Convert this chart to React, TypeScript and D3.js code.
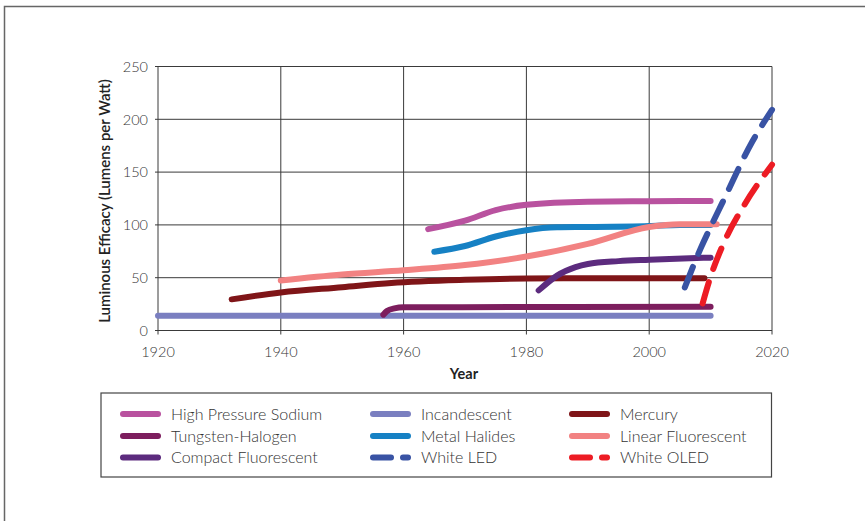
import React from "react";
import * as d3 from "d3";

type Pt = [number, number];

const xTicks = [1920, 1940, 1960, 1980, 2000, 2020];
const yTicks = [0, 50, 100, 150, 200, 250];

const incandescent: Pt[] = [[1920, 14], [2010, 14]];
const tungstenHalogen: Pt[] = [[1956.7, 15], [1957.3, 18.5], [1958.5, 21], [1960, 22], [1980, 22.2], [2010, 22.4]];
const mercury: Pt[] = [[1932, 29.5], [1940, 36], [1950, 41], [1958, 45], [1970, 48], [1980, 49.3], [1990, 49.5], [2009, 49.5]];
const compactFluorescent: Pt[] = [[1982, 38], [1985, 52], [1988, 60], [1990, 63], [1995, 65.7], [2000, 67], [2010, 69]];
const metalHalides: Pt[] = [[1965, 74.6], [1970, 80], [1975, 89], [1980, 95], [1985, 97.7], [1990, 98], [2000, 99], [2005, 100], [2010, 100]];
const linearFluorescent: Pt[] = [[1940, 47.4], [1950, 53], [1960, 57], [1970, 62], [1980, 70], [1990, 82], [2000, 98], [2005, 100.5], [2011, 100.5]];
const highPressureSodium: Pt[] = [[1964, 96], [1970, 104], [1975, 114], [1980, 119], [1990, 122], [2000, 122.5], [2010, 122.6]];
const whiteLED: Pt[] = [[2005.8, 40.8], [2008.4, 78], [2010, 98], [2012, 122], [2016.8, 179], [2020, 209]];
const whiteOLED: Pt[] = [[2008.7, 25.6], [2010, 51], [2012, 81], [2015.5, 119], [2020, 157]];

const seriesNames = [
  "Incandescent", "Tungsten-Halogen", "Mercury", "Compact Fluorescent", "Metal Halides",
  "Linear Fluorescent", "High Pressure Sodium", "White LED", "White OLED",
];
const seriesData = [incandescent, tungstenHalogen, mercury, compactFluorescent, metalHalides, linearFluorescent, highPressureSodium, whiteLED, whiteOLED];
const seriesColors = ["#7a7fc0", "#7d1e5e", "#7f1518", "#5c2b7e", "#1681c4", "#f28282", "#b9529f", "#3953a4", "#ed1c24"];
const seriesDashed = [false, false, false, false, false, false, false, true, true];

const legendOrder = [
  ["High Pressure Sodium", "Incandescent", "Mercury"],
  ["Tungsten-Halogen", "Metal Halides", "Linear Fluorescent"],
  ["Compact Fluorescent", "White LED", "White OLED"],
];

export default function App() {
  const W = 865, H = 521;
  const x = d3.scaleLinear().domain([1920, 2020]).range([158, 772]);
  const y = d3.scaleLinear().domain([0, 250]).range([330.5, 66.5]);
  const line = d3.line<Pt>().x(d => x(d[0])).y(d => y(d[1])).curve(d3.curveMonotoneX);
  const font = "Lato, 'Open Sans', sans-serif";
  const grid = "#3a3a3a";
  const colX = [120, 370, 569];
  const rowY = [414, 436, 457.5];

  return (
    <svg width={W} height={H} style={{ position: "absolute", left: 0, top: 0 }} fontFamily={font}>
      <rect x={0} y={0} width={W} height={H} fill="#fff" />
      <rect x={4.5} y={6.5} width={W + 20} height={H + 20} fill="none" stroke="#666" strokeWidth={1.5} />
      {xTicks.map(t => (
        <line key={"gx" + t} x1={x(t)} x2={x(t)} y1={y(250)} y2={y(0) + 4} stroke={grid} strokeWidth={1} />
      ))}
      {yTicks.map(t => (
        <line key={"gy" + t} x1={x(1920) - 3} x2={x(2020)} y1={y(t)} y2={y(t)} stroke={grid} strokeWidth={1} />
      ))}
      {yTicks.map(t => (
        <text key={"ty" + t} x={148} y={y(t)} dy="0.36em" textAnchor="end" fontSize={14.5} fontWeight={300} fill="#333">{t}</text>
      ))}
      {xTicks.map(t => (
        <text key={"tx" + t} x={x(t)} y={357} textAnchor="middle" fontSize={14.5} fontWeight={300} fill="#333">{t}</text>
      ))}
      <text x={464} y={378.5} textAnchor="middle" fontSize={14.5} fontWeight={700} fill="#222">Year</text>
      <text transform={`translate(110,201) rotate(-90)`} textAnchor="middle" fontSize={15} fontWeight={600} fill="#222">
        Luminous Efficacy (Lumens per Watt)
      </text>
      {seriesData.map((d, i) => (
        <path key={seriesNames[i]} d={line(d) || ""} fill="none" stroke={seriesColors[i]} strokeWidth={6}
          strokeLinecap="round" strokeLinejoin="round" strokeDasharray={seriesDashed[i] ? "22 14" : undefined} />
      ))}
      <rect x={101} y={393} width={670.5} height={84} fill="none" stroke="#444" strokeWidth={1.2} />
      {legendOrder.map((row, r) => row.map((name, c) => {
        const i = seriesNames.indexOf(name);
        const x0 = colX[c];
        const yy = rowY[r];
        return (
          <g key={name}>
            {seriesDashed[i] ? (
              <>
                <line x1={x0 + 3} x2={x0 + 21} y1={yy} y2={yy} stroke={seriesColors[i]} strokeWidth={6} strokeLinecap="round" />
                <line x1={x0 + 33} x2={x0 + 38} y1={yy} y2={yy} stroke={seriesColors[i]} strokeWidth={6} strokeLinecap="round" />
              </>
            ) : (
              <line x1={x0 + 3} x2={x0 + 38} y1={yy} y2={yy} stroke={seriesColors[i]} strokeWidth={6} strokeLinecap="round" />
            )}
            <text x={x0 + 51} y={yy} dy="0.36em" fontSize={16} fontWeight={300} fill="#333">{name}</text>
          </g>
        );
      }))}
    </svg>
  );
}
